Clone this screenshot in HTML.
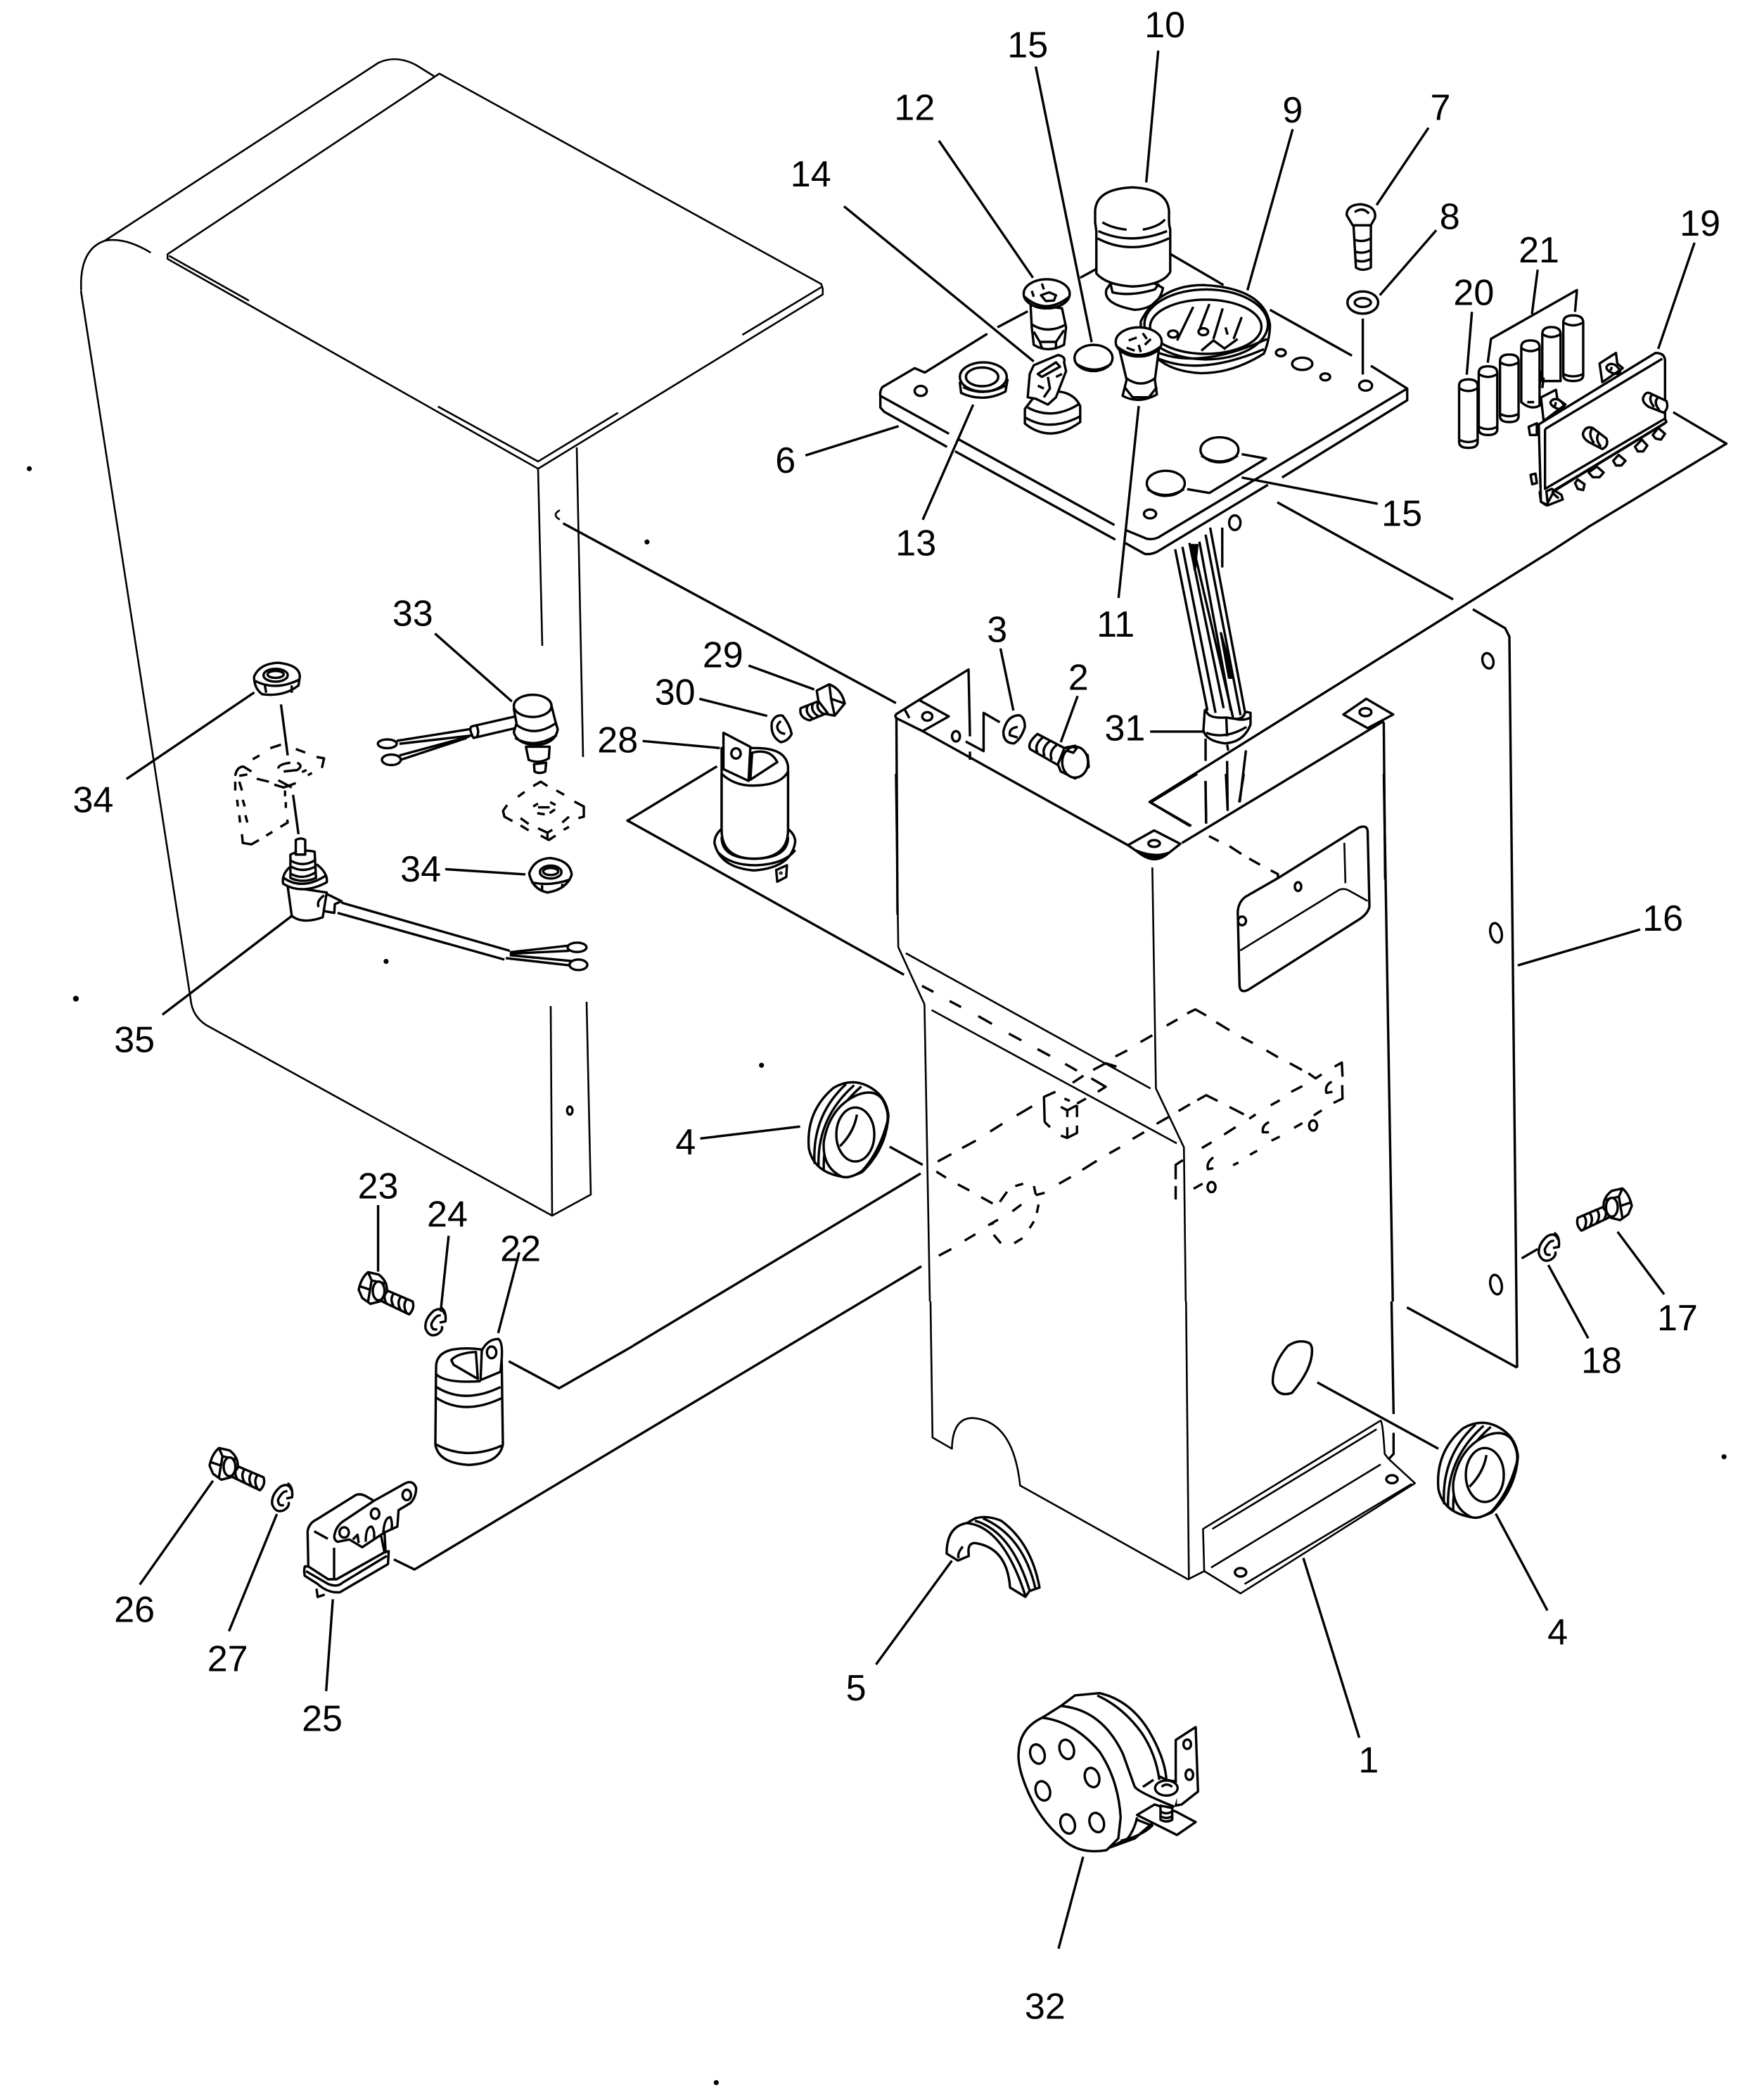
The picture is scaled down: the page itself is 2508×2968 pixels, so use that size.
<!DOCTYPE html>
<html><head><meta charset="utf-8"><title>Parts diagram</title>
<style>
html,body{margin:0;padding:0;background:#fff}
svg{display:block}
path,ellipse,circle,line{vector-effect:non-scaling-stroke;stroke:#000;stroke-width:3.4;fill:none;stroke-linejoin:round}
.w{fill:#fff}
.t{stroke-width:2.6}
.k{fill:#000}
text{font-family:"Liberation Sans",sans-serif;font-size:27.5px;fill:#000;text-anchor:middle}
</style></head><body>
<svg width="2508" height="2968" viewBox="0 0 2508 2968" xmlns="http://www.w3.org/2000/svg">
<defs>
<g id="bolt">
<path class="w" d="M420,90L560,150Q570,180 545,205L430,150Z"/>
<path d="M450,105Q430,130 450,160M480,115Q460,140 480,172M510,130Q490,155 510,188M535,140Q515,165 535,200"/>
<path class="w" d="M330,100Q340,50 370,25L415,35Q455,65 450,110L420,150L380,160L345,135Z"/>
<path d="M370,25L385,60L450,75M385,60L370,150M335,85L380,100"/>
<ellipse class="w" cx="415" cy="105" rx="25" ry="40"/>
</g>
<g id="wash">
<path d="M697,205Q685,170 650,190Q610,225 615,265Q630,305 665,290Q690,275 685,255"/>
<path d="M680,210Q660,205 640,245Q640,275 665,268M680,175Q705,190 700,235L675,240"/>
</g>
<g id="grom">
<path class="w" d="M1380,920Q1310,900 1298,800Q1290,640 1360,540Q1400,500 1440,530Q1490,570 1495,660Q1490,800 1430,900Q1400,925 1380,920Z"/>
<path d="M1312,865Q1305,660 1390,525M1322,875Q1318,670 1410,530M1335,895Q1330,680 1428,535"/>
<path class="w" d="M1380,920Q1330,880 1335,770Q1350,620 1420,570Q1460,545 1480,590Q1500,650 1490,700Q1470,820 1430,895Q1400,930 1380,920Z"/>
<ellipse class="w" cx="1413" cy="740" rx="47" ry="115"/>
<path d="M1417,655Q1410,730 1375,790"/>
</g>
</defs>

<!-- long lines in full pixel coordinates -->
<path class="t" d="M115,413L271,1420Q273,1444 293,1457L785,1728L840,1698L834,1424M783,1430L785,1728"/>
<path class="t" d="M765,666L771,918M820,636L829,1076"/>
<line x1="900" y1="1913" x2="1309" y2="1668"/>
<line x1="900" y1="2045" x2="1310" y2="1800"/>
<line x1="1816" y1="714" x2="2066" y2="852"/>
<line x1="2257" y1="750" x2="2200" y2="787"/>
<path d="M2094,866L2140,893L2146,905L2157,1944"/>

<g transform="scale(1.8928)">
<line x1="423" y1="393" x2="673" y2="528"/>
<line x1="471" y1="616" x2="679" y2="732"/>
<line x1="778" y1="50" x2="820" y2="257"/>
<line x1="870" y1="38" x2="861" y2="137"/>
<line x1="971" y1="97" x2="937" y2="218"/>
<line x1="1073" y1="96" x2="1034" y2="154"/>
<line x1="605" y1="342" x2="675" y2="320"/>
<line x1="526" y1="855" x2="601" y2="846"/>
<line x1="191" y1="520" x2="95" y2="585"/>
<line x1="219" y1="688" x2="122" y2="762"/>
<line x1="1140" y1="725" x2="1232" y2="698"/>
<line x1="1215" y1="925" x2="1250" y2="972"/>
<line x1="1163" y1="950" x2="1193" y2="1005"/>
<line x1="1143" y1="945" x2="1155" y2="938"/>
<line x1="284" y1="905" x2="284" y2="955"/>
<line x1="337" y1="928" x2="331" y2="985"/>
<line x1="105" y1="1190" x2="160" y2="1112"/>
<line x1="172" y1="1225" x2="208" y2="1137"/>
<line x1="245" y1="1270" x2="250" y2="1201"/>
<line x1="715" y1="1172" x2="658" y2="1250"/>
<line x1="979" y1="1170" x2="1021" y2="1305"/>
<ellipse cx="428" cy="834" rx="2" ry="3"/>
<circle class="k" cx="57" cy="750" r="1.3"/><circle class="k" cx="486" cy="407" r="1"/><circle class="k" cx="290" cy="722" r="1"/><circle class="k" cx="1295" cy="1094" r="1"/><circle class="k" cx="538" cy="1564" r="1"/><circle class="k" cx="22" cy="352" r="1"/><circle class="k" cx="572" cy="800" r="1"/>
</g>

<!-- top cabinet panel -->
<g transform="translate(100,60) scale(.7015,.4464)">
<path class="t" d="M163,670Q110,620 70,632M22,790Q18,660 70,632L625,65Q660,40 700,72L737,108"/>
<path class="t" d="M197,675L748,100L1522,770L1525,785L1525,803L948,1358L197,690Z"/>
<path class="t" d="M200,680L362,823M745,1160L948,1335L1110,1180M1362,932L1522,780"/>
<path class="t" d="M992,1490Q975,1505 992,1520"/>
</g>

<!-- top-left box corner, parts 2,3,28,29,30 -->
<g transform="translate(850,900) scale(.5102,.3333)">
<path d="M832,360L835,1200"/>
<path d="M895,285L1033,155L1037,440M1037,505L1037,540M1025,462L1075,503L1075,340L1120,380"/>
<path d="M905,418L1478,905"/>
<path d="M832,345L895,285L978,355L905,418L835,365Q825,355 832,345Z"/>
<path d="M855,325L868,362"/>
<ellipse cx="918" cy="355" rx="14" ry="18"/>
<ellipse cx="998" cy="440" rx="11" ry="22"/>
<path d="M1122,65L1158,330M1337,268L1290,465M125,460L340,490M420,138L603,240M283,280L472,353M332,568L80,802"/>
<path d="M1175,350Q1140,350 1130,420Q1130,470 1160,470Q1180,450 1190,400Q1190,360 1175,350Z"/>
<path d="M1170,400Q1145,405 1148,435L1170,445"/>
<path class="w" d="M1205,495Q1195,470 1225,430L1300,490L1285,565Z"/>
<path d="M1240,445Q1215,475 1225,510M1260,460Q1235,490 1245,525M1280,475Q1255,505 1265,540"/>
<path class="w" d="M1300,490L1330,480L1365,520L1368,570L1330,620L1290,590L1282,560Z"/>
<ellipse class="w" cx="1330" cy="550" rx="36" ry="66"/>
<path d="M1300,490Q1315,480 1335,490L1325,510L1305,500"/>
<path class="w" d="M610,245L645,218Q680,240 688,300L660,352L620,340Z"/>
<path class="w" d="M565,320L615,290L640,340L590,372Q560,360 565,320Z"/>
<path d="M585,310Q575,340 600,365M600,300Q590,330 615,355M615,290Q605,325 630,345"/>
<path d="M645,218L650,280L688,300M650,280L660,352"/>
<path d="M540,430Q530,460 510,465Q480,440 485,380Q495,345 515,352Q535,390 540,430Z"/>
<path d="M510,375Q490,400 510,425L522,430"/>
<path class="w" d="M345,580L345,870Q345,960 435,962Q530,960 530,870L530,570Q525,490 440,490L345,490Z"/>
<path class="w" d="M345,835Q325,860 325,895Q340,1000 435,1012Q540,1000 550,890Q550,860 530,835"/>
<path d="M345,870Q345,960 435,962Q530,960 530,870M335,935Q370,990 440,990Q520,985 550,925"/>
<path class="w" d="M345,840L345,600Q380,650 430,650Q510,650 530,590L530,840Q530,960 435,962Q345,960 345,840Z"/>
<path d="M430,510Q480,490 500,550L425,625Z"/>
<path class="w" d="M350,425L425,485L420,630L350,580Z"/>
<ellipse cx="385" cy="513" rx="13" ry="22"/>
<path class="w" d="M497,1010L500,1060L525,1040L527,990Z"/>
<circle cx="510" cy="1023" r="2"/>
</g>

<!-- center of box, dashed -->
<g transform="translate(1220,1100) scale(.5102,.4783)">
<path class="t" d="M105,0L112,515L185,685L200,1568"/>
<path class="t" d="M820,278L830,935L908,1110L913,1568"/>
<path class="t" d="M133,533L815,935M205,702L888,1098"/>
<path d="M178,630L210,648M255,675L287,693M335,720L373,743M420,772L455,792M500,818L535,838M577,862L610,882M650,905L690,930L668,945"/>
<path d="M655,880L690,860L720,870M717,840L750,822M787,797L820,777M860,748L890,730M917,712L940,700L970,718M998,738L1035,762M1068,782L1100,800M1138,822L1170,842M1203,860L1237,880M1255,890L1275,905L1292,893"/>
<path d="M222,1152L260,1130M290,1112L328,1090M368,1063L402,1040M442,1015L485,988M598,918L628,897M610,980L635,965"/>
<path d="M225,1432L260,1412M297,1387L327,1368M560,1218L593,1198M625,1177L665,1150M700,1128L730,1110M765,1085L797,1065M832,1040L865,1020M893,1002L925,982M945,970L970,955L1002,972M1035,990L1075,1012M1090,1025L1108,1012M1020,1072L1052,1050M958,1112L985,1095M1150,985L1175,970M1207,945L1238,928"/>
<path d="M1045,1163L1060,1155M1092,1132L1112,1120M1152,1090L1175,1078M1215,1052L1238,1038M1270,1015L1292,1000M935,1233L960,1218"/>
<path d="M1328,870L1348,858L1350,900M1349,925L1350,965L1325,978"/>
<ellipse cx="985" cy="1228" rx="11" ry="15"/><ellipse cx="1268" cy="1045" rx="11" ry="15"/>
<path d="M1145,1035Q1125,1045 1128,1065L1145,1065M990,1140Q970,1155 975,1175L990,1172M1320,915Q1300,925 1305,948L1322,945"/>
<path d="M88,1108L180,1162M218,1182L245,1200M278,1220L310,1238M343,1258L375,1277"/>
<path d="M395,1272L415,1242M438,1225L460,1218M490,1225L495,1250M520,1245L495,1252M503,1280L498,1305M490,1330L478,1350M458,1380L435,1395M398,1395L378,1370M378,1335L365,1340L390,1325M430,1300L455,1280"/>
<path d="M520,1035L518,960L550,945M575,965L590,972M565,990L583,1000L583,1020M583,1000L610,985M610,985L610,1020M520,1035L535,1050M565,1075L583,1082L610,1067L610,1045M583,1050L583,1082"/>
<path d="M905,1148L885,1162L885,1205M885,1225L885,1265"/>
<path d="M978,185L1005,200M1035,215L1068,238M1090,252L1120,270M1150,287L1170,298L1170,310"/>
<path d="M1170,310L1395,160Q1418,150 1420,170L1425,395Q1420,415 1400,430L1090,640Q1065,655 1063,630L1058,410Q1060,380 1080,365Z"/>
<path class="t" d="M1065,525L1340,345Q1355,338 1370,348L1420,378M1355,205L1358,325"/>
<ellipse cx="1226" cy="335" rx="9" ry="13"/><ellipse cx="1070" cy="437" rx="11" ry="13"/>
<path class="w" d="M752,212L825,168L898,208L860,240Q825,265 790,240Z"/>
<path class="k" d="M775,228Q825,275 865,235Q825,250 775,228Z"/>
<ellipse cx="825" cy="207" rx="16" ry="10"/>
<path d="M925,155L815,85L945,0"/>
<path d="M968,22L970,148M1025,0L1030,110M1075,0L1062,85"/>
<path d="M1465,0L1490,1568"/>
</g>

<!-- base -->
<g transform="translate(1300,1850) scale(.574,.3333)">
<path class="t" d="M40,0L45,580L93,628Q95,495 145,497Q245,510 262,785L678,1185L718,1150L715,970L1155,508Q1160,510 1165,650L1175,672L1240,775L808,1245L718,1150"/>
<path class="t" d="M673,0L680,1185"/>
<path d="M1182,0L1187,480M1187,560L1187,650L1175,672"/>
<path class="t" d="M738,970L1145,545M735,1135L1155,695M818,1205L1232,778"/>
<ellipse cx="1183" cy="758" rx="14" ry="17"/><ellipse cx="808" cy="1155" rx="14" ry="18"/>
<path d="M975,175Q950,160 925,190Q885,270 888,350Q900,410 935,390Q985,290 985,210Q985,180 975,175Z"/>
<path d="M998,345L1298,628"/>
<path d="M1220,25L1493,282"/>
<use href="#grom"/>
<path d="M1440,905L1568,1318"/>
<path class="w" d="M80,1075Q80,960 130,945L150,925Q180,910 215,935Q290,1030 310,1220L285,1235L275,1260L237,1220Q230,1050 150,1030Q130,1030 135,1085L108,1105Z"/>
<path d="M130,945Q220,960 275,1255M150,935Q240,980 285,1230M170,925Q270,1000 300,1225M120,1045Q105,1075 110,1095"/>
</g>
<g transform="translate(405,1366) scale(.574,.3333)"><use href="#grom"/></g>

<!-- right panel 16 -->
<g transform="translate(1600,750) scale(.3827,.3333)">
<ellipse cx="1347" cy="568" rx="20" ry="33" transform="rotate(-12 1347 568)"/>
<path d="M1568,110L90,1170L245,1272"/>
<path d="M960,825L210,1345"/>
<path d="M960,830L965,1500"/>
<path class="w" d="M810,797L895,730L995,797L900,855Z"/>
<ellipse cx="892" cy="787" rx="22" ry="17"/>
<path d="M185,92L305,780M212,82L335,790M238,65L365,770M250,70L400,810M275,60L392,780M298,30L428,800M315,0L445,790M360,0L360,170"/>
<path d="M245,70L258,180L268,70M355,450L385,640L400,640Z" class="k"/>
<path class="w" d="M295,780L290,865Q300,910 370,920Q440,915 465,840L465,790L445,785Q440,820 405,815L375,810Q300,815 300,775Z"/>
<path d="M300,875Q370,905 450,850M375,810L378,890M405,815Q440,825 465,810"/>
<path d="M298,900L298,995M298,1080L300,1260M378,995L380,1205M448,950L425,1170M378,925L382,950M92,870L290,870"/>
</g>
<ellipse cx="2127" cy="1326" rx="8" ry="14" transform="rotate(-12 2127 1326)"/>
<ellipse cx="2127" cy="1826" rx="8" ry="14" transform="rotate(-12 2127 1826)"/>

<!-- control panel, parts 6-15 -->
<g transform="translate(1200,200) scale(.574,.4145)">
<path d="M0,225L470,757M235,0L468,470M1467,307L1327,530M1285,610L1285,802M320,905L195,1300M730,910L680,1568M985,1155L1322,1245"/>
<path d="M625,440L585,470M455,585L380,640M355,662L200,795L175,780L95,845Q88,860 90,875L90,915L100,930L255,1050M90,875L260,1005M285,1025L670,1318M275,1065L672,1368M697,1335L750,1365Q770,1370 785,1355L1045,1140M1045,1140L1395,850L1305,772M697,1380L745,1417Q760,1420 775,1410L1050,1180M1085,1155L1395,890L1395,850M810,390L940,495M1055,580L1258,737"/>
<path d="M985,1075L1045,1090L905,1208L850,1195"/>
<ellipse cx="190" cy="858" rx="15" ry="17"/><ellipse cx="758" cy="1280" rx="15" ry="15"/><ellipse cx="1082" cy="727" rx="12" ry="12"/><ellipse cx="1135" cy="765" rx="25" ry="21"/><ellipse cx="1192" cy="810" rx="12" ry="12"/><ellipse cx="1292" cy="840" rx="16" ry="17"/><ellipse cx="968" cy="1310" rx="14" ry="25"/>
<path class="w" d="M650,510Q640,560 720,580Q780,575 790,505L770,490L660,490Z"/>
<path d="M660,490L665,520Q710,535 770,510L780,490"/>
<path class="w" d="M625,310L625,455Q650,495 715,500Q790,495 808,450L808,305Q805,290 805,275L805,240Q800,165 715,160Q625,165 622,240L622,280Z"/>
<path d="M640,280Q665,300 700,305M740,305Q780,295 795,270M630,310Q710,360 800,310M628,335Q710,395 805,335"/>
<path class="w" d="M735,620Q780,495 890,495Q1040,505 1055,630Q1055,680 1040,730Q960,800 880,797Q810,790 775,745L735,680Z"/>
<ellipse class="w" cx="897" cy="630" rx="153" ry="120"/>
<ellipse class="w" cx="896" cy="638" rx="138" ry="93"/>
<path d="M775,745Q880,810 1040,715M775,725Q880,785 1048,680"/>
<path d="M865,570L825,685M905,560L880,650M938,575L915,680M985,605L965,680M885,720L915,685L945,715M945,640L950,665M975,680L940,715"/>
<ellipse cx="815" cy="663" rx="12" ry="12"/><ellipse cx="890" cy="655" rx="12" ry="12"/>
<path class="w" d="M462,560L465,640L470,700Q505,730 545,700L550,640L540,575Z"/>
<path d="M465,630Q505,665 550,630M470,655L485,690L525,690L545,650M485,690L490,710M525,690L525,715"/>
<ellipse class="w" cx="502" cy="525" rx="57" ry="50"/>
<path d="M447,535Q500,600 558,535M488,530L508,520L525,530L520,548L500,550ZM465,515L470,535M490,490L495,510"/>
<path class="w" d="M682,715L700,820L690,875Q730,905 775,870L770,820L780,715Z"/>
<path d="M700,815Q735,850 770,815M695,845L715,880L755,880L775,845"/>
<ellipse class="w" cx="730" cy="690" rx="57" ry="50"/>
<path d="M675,705Q730,765 785,705M705,685L725,675M700,710L720,720M740,660L750,680M760,680L745,700M730,700L735,725"/>
<ellipse class="w" cx="618" cy="745" rx="47" ry="45"/><path d="M575,765Q620,805 662,765"/>
<ellipse class="w" cx="930" cy="1060" rx="47" ry="43"/><path d="M885,1080Q930,1120 975,1080"/>
<ellipse class="w" cx="797" cy="1175" rx="47" ry="43"/><path d="M752,1195Q795,1235 842,1195"/>
<path class="w" d="M287,830L290,865Q345,900 400,860L405,820Z"/>
<path d="M295,845Q345,880 400,840"/>
<ellipse class="w" cx="345" cy="810" rx="58" ry="50"/><ellipse cx="342" cy="810" rx="40" ry="32"/>
<path class="w" d="M448,920L448,970Q510,1040 585,965L585,910Q570,865 530,860L470,880Z"/>
<path d="M450,950Q510,1000 585,945M455,915Q515,960 580,905"/>
<path class="w" d="M470,770L530,735Q550,740 545,760L550,790L525,880L505,905L475,885L455,880L460,800Z"/>
<path d="M480,800L525,760L535,775L490,810ZM505,810L510,850L495,880M480,840L495,850M525,810L540,800"/>
<path class="w" d="M1262,290L1268,435Q1285,450 1305,435L1305,290Z"/>
<path d="M1265,340Q1285,350 1305,335M1265,380Q1285,390 1305,375M1268,410Q1285,420 1305,405"/>
<path class="w" d="M1245,255Q1245,220 1280,218Q1320,225 1315,265L1305,290L1260,290Z"/>
<path d="M1265,245Q1285,225 1300,250"/>
<ellipse cx="1285" cy="555" rx="38" ry="38"/><ellipse cx="1285" cy="555" rx="20" ry="15"/>
</g>

<!-- parts 19,20,21 -->
<g transform="translate(1900,250) scale(.3878,.3333)">
<path d="M555,797L567,695L882,487L875,580M738,400L717,590M497,580L478,848M1313,285L1180,738M1235,1008L1430,1142L920,1500"/>
<path class="w" d="M832,625Q832,595 868,595Q905,595 905,625L905,850Q905,875 868,875Q832,875 832,850Z"/>
<path d="M832,625Q868,650 905,625M832,845Q868,865 905,845"/>
<path class="w" d="M755,675Q755,645 788,645Q822,645 822,675L822,875L755,875Z"/>
<path d="M755,675Q788,700 822,675"/>
<path class="w" d="M678,730Q678,702 712,702Q745,702 745,730L745,980Q712,1000 678,965Z"/>
<path d="M678,735Q712,760 745,735M700,965L725,965M750,830L745,905M760,860L755,905"/>
<path class="w" d="M600,790Q600,762 634,762Q668,762 668,790L668,1025Q668,1050 634,1050Q600,1050 600,1025Z"/>
<path d="M600,795Q634,820 668,795M600,1015Q634,1035 668,1015"/>
<path class="w" d="M522,840Q522,812 556,812Q590,812 590,840L590,1080Q590,1105 556,1105Q522,1105 522,1080Z"/>
<path d="M522,845Q556,870 590,845M522,1070Q556,1090 590,1070"/>
<path class="w" d="M450,895Q450,868 484,868Q518,868 518,895L518,1135Q518,1160 484,1160Q450,1160 450,1135Z"/>
<path d="M450,905Q484,930 518,905M450,1125Q484,1145 518,1125"/>
<path class="w" d="M965,800L1025,755L1030,800L1050,820L975,880Z"/>
<path d="M990,815Q1000,795 1020,805Q1035,815 1040,835Q1030,850 1010,840Q990,830 990,815ZM1010,815L1005,830"/>
<path class="w" d="M750,945L805,912L810,950L840,975L760,1045Z"/>
<path d="M785,965Q795,945 815,955Q835,970 835,985Q820,1000 805,990Q785,980 785,965ZM805,965L800,985"/>
<path class="w" d="M742,1060L1170,755Q1205,755 1205,790L1205,1035L1210,1050L800,1340L770,1405L750,1390Z"/>
<path d="M765,1080L1195,780M765,1080L765,1335L1205,1035M790,1350L1205,1055"/>
<path class="w" d="M705,1070L735,1055L735,1105L710,1105ZM712,1275L730,1270L735,1310L718,1315Z"/>
<path class="w" d="M1125,945Q1135,915 1155,930L1210,960Q1220,990 1200,1010L1145,985Q1120,965 1125,945Z"/>
<path d="M1160,930Q1140,950 1165,985M1180,945Q1160,965 1185,1000"/>
<path class="w" d="M905,1095Q915,1065 940,1075L990,1120Q1000,1150 975,1165L925,1135Q900,1115 905,1095Z"/>
<path d="M940,1075Q920,1100 945,1140M965,1095Q945,1120 970,1155"/>
<path d="M745,1345L750,1390L775,1405L830,1380L825,1360L790,1335L770,1345L775,1400M790,1350L815,1375"/>
<path d="M875,1310L885,1295L910,1315L905,1340L885,1335ZM925,1265L955,1240L980,1265L965,1285L940,1285ZM1015,1215L1035,1190L1060,1215L1045,1235L1025,1235ZM1095,1155L1120,1125L1140,1150L1125,1175L1105,1175ZM1160,1105L1180,1075L1205,1100L1190,1125L1170,1120Z"/>
</g>

<!-- parts 33,34,35 -->
<g transform="translate(300,850) scale(.3827,.4145)">
<path d="M260,365L285,540M305,675L325,810M832,122L1118,355M870,930L1168,948"/>
<path class="w" d="M160,270Q180,225 250,222Q330,230 330,270L325,300Q270,340 190,330Q160,310 160,270Z"/>
<ellipse cx="240" cy="265" rx="45" ry="22"/><ellipse cx="240" cy="262" rx="30" ry="12"/>
<path d="M165,285Q240,320 328,280M200,300L205,325M300,300L300,325"/>
<path d="M155,553L180,540M220,515L260,503M315,518L350,530M392,545L420,550L412,583M338,597L355,590M360,608L375,600"/>
<path d="M90,610Q95,580 120,578L150,595M105,610L135,605M170,620L215,630M235,640L270,650L315,635M250,625L300,650M295,565Q250,570 250,585M320,565Q345,575 320,590L270,595"/>
<path d="M90,630L90,660M105,630L115,660M97,692L100,715M118,692L125,715M105,745L108,770M128,745L135,770M115,810L118,840L150,845L178,830M205,815L228,802M258,785L285,770L283,760M275,660L275,680M278,700L278,720"/>
<path d="M960,450L690,490M985,470L700,500M960,475L700,540M950,480L705,555"/>
<ellipse cx="655" cy="500" rx="35" ry="15"/><ellipse cx="670" cy="555" rx="35" ry="18"/>
<path class="w" d="M1160,400L970,440Q955,445 975,480L1160,440Z"/>
<path d="M985,435Q1000,460 985,480"/>
<path class="w" d="M1170,510L1180,555Q1220,570 1255,550L1258,510Z"/>
<path class="w" d="M1200,570L1202,595Q1220,605 1242,595L1245,565Z"/>
<path class="w" d="M1125,380L1135,430L1125,460Q1135,500 1205,505Q1280,500 1288,450L1280,425L1265,370Z"/>
<path d="M1130,480Q1200,520 1285,470M1135,435Q1200,480 1280,430"/>
<ellipse class="w" cx="1195" cy="370" rx="70" ry="38"/>
<path d="M1197,645L1225,630L1250,645M1140,682L1165,665M1283,660L1312,675M1350,698L1385,715L1385,750L1365,755M1100,710L1085,730L1090,750L1120,765M1150,755L1180,775M1150,780L1180,797M1215,790L1250,805L1268,795M1250,805L1250,825M1225,815L1255,830L1280,815M1305,770L1330,750M1310,795L1330,785M1197,715L1215,705M1215,718L1258,718M1260,700L1280,710M1212,738L1240,742M1258,738L1278,725"/>
<path class="w" d="M1182,945Q1200,895 1260,892Q1335,900 1340,950Q1320,1000 1250,1010Q1195,1000 1182,945Z"/>
<ellipse cx="1262" cy="940" rx="40" ry="22"/><ellipse cx="1262" cy="938" rx="28" ry="12"/>
<path d="M1190,975Q1260,990 1335,965M1230,985L1230,1005M1305,980L1305,995"/>
<path d="M485,1045L1110,1210M470,1080L1090,1240M1110,1215L1330,1192M1110,1220L1330,1210M1095,1235L1335,1260M1110,1225L1340,1245"/>
<ellipse cx="1360" cy="1198" rx="35" ry="16"/><ellipse cx="1365" cy="1258" rx="33" ry="18"/>
<path class="w" d="M430,1015L485,1040L460,1050L458,1080L410,1072Z"/>
<path class="w" d="M285,990L300,1090Q340,1120 415,1095L430,1010Z"/>
<path d="M420,1020Q390,1040 400,1060"/>
<path class="w" d="M290,925Q262,950 268,980Q340,1020 430,975Q435,945 395,915Z"/>
<path d="M270,960Q340,1005 430,950"/>
<path class="w" d="M295,880Q340,860 385,870L390,960Q340,980 295,960Z"/>
<path d="M295,900Q340,925 385,900M295,920Q340,945 390,920M295,945Q340,970 390,940"/>
<path class="w" d="M315,880L315,830Q335,820 350,830L350,880Z"/>
</g>

<!-- parts 22-27 -->
<g transform="translate(400,1800) scale(.3333)">
<use href="#bolt"/>
<use href="#wash"/>
<path d="M1015,-60L925,285"/>
<path d="M970,405L1185,520L1500,340M480,1250L568,1293L1500,735"/>
<path class="w" d="M660,430Q660,370 730,355Q790,345 855,355L940,400L945,760Q930,840 800,847Q670,840 657,760Z"/>
<path d="M660,460Q700,500 850,490M662,515Q780,590 935,515M660,560Q780,640 945,560M660,760Q790,830 940,765"/>
<path d="M725,400Q750,370 830,365L838,480L735,420Z"/>
<path class="w" d="M850,485L855,360Q880,310 925,310Q945,320 940,395L935,450Z"/>
<ellipse cx="897" cy="367" rx="20" ry="25"/>
<path class="w" d="M115,1280L112,1130Q118,1095 150,1080L310,980Q330,965 360,980L395,1000L440,1220L235,1335L200,1335Z"/>
<path d="M225,1200L225,1335M140,1130L198,1162"/>
<path class="w" d="M100,1280Q95,1300 100,1320L155,1355Q200,1395 250,1390L455,1270L458,1215L440,1220L235,1335L200,1335L115,1280Z"/>
<path d="M105,1300L200,1355Q240,1370 260,1350L450,1235"/>
<path class="w" d="M395,1000L520,930Q560,905 575,945Q575,985 550,1010L500,1040L495,1110L440,1135L345,1198L290,1165L240,1175Q220,1165 228,1140Q235,1110 260,1090Z"/>
<ellipse cx="268" cy="1135" rx="20" ry="22"/><ellipse cx="400" cy="1055" rx="18" ry="22"/><ellipse cx="535" cy="975" rx="18" ry="22"/>
<path d="M360,1175Q360,1110 385,1110Q400,1125 395,1165M435,1135Q440,1070 465,1070Q475,1090 470,1125M305,1165L325,1145L330,1180M440,1135L445,1220M150,1375L155,1410L185,1400"/>
</g>
<g transform="translate(188,2050) scale(.3333)"><use href="#bolt"/></g>
<g transform="translate(2430,1681) scale(-.3333,.3333)"><use href="#bolt"/></g>
<g transform="translate(182,2050) scale(.3333)"><use href="#wash"/></g>
<g transform="translate(1983,1694) scale(.3333)"><use href="#wash"/></g>

<!-- horn 32 -->
<g transform="translate(1400,2350) scale(.3333)">
<path class="w" d="M325,225L385,180L490,170Q620,200 700,330Q770,450 775,540L800,650L640,790L530,830L245,275Z"/>
<path d="M480,180Q590,230 670,340Q730,430 745,540M325,225Q500,240 590,430L640,570"/>
<path class="w" d="M145,420Q150,320 245,275Q380,290 490,420Q570,540 580,700L570,790L520,840Q400,860 330,790Q220,700 165,540Q140,470 145,420Z"/>
<ellipse cx="225" cy="430" rx="30" ry="42" transform="rotate(-18 225 430)"/><ellipse cx="350" cy="410" rx="30" ry="42" transform="rotate(-18 350 410)"/><ellipse cx="458" cy="530" rx="30" ry="42" transform="rotate(-18 458 530)"/><ellipse cx="248" cy="587" rx="30" ry="42" transform="rotate(-18 248 587)"/><ellipse cx="354" cy="728" rx="30" ry="42" transform="rotate(-18 354 728)"/><ellipse cx="478" cy="722" rx="30" ry="42" transform="rotate(-18 478 722)"/>
<path d="M640,570Q660,590 810,650M675,570L720,540"/>
<path class="w" d="M725,645L650,690L820,775L900,720L815,675Z"/>
<path d="M650,700Q640,750 610,790L530,830M650,710Q700,730 715,735Q670,780 580,800"/>
<path class="w" d="M750,650L750,710Q775,725 800,710L800,660Z"/>
<path d="M750,675Q775,690 800,675M750,695Q775,710 800,695"/>
<path class="w" d="M815,370L900,315L910,590L840,645L815,650Z"/>
<ellipse cx="864" cy="388" rx="16" ry="20"/><ellipse cx="873" cy="518" rx="16" ry="22"/>
<path class="w" d="M640,570L725,625L810,650L825,600L825,550L760,540L730,570Z" style="stroke:none"/>
<path d="M640,570Q660,595 810,655"/>
<ellipse cx="775" cy="575" rx="48" ry="32"/>
<path d="M755,570Q775,550 800,570M775,540L745,525M775,540L820,548M675,570L720,540"/>
<path d="M420,868L315,1260"/>
</g>

<!-- labels -->
<g transform="scale(1.8928)">
<text x="875" y="28">10</text><text x="772" y="43">15</text><text x="687" y="90">12</text><text x="971" y="92">9</text><text x="1082" y="90">7</text><text x="1089" y="172">8</text><text x="609" y="140">14</text><text x="1277" y="177">19</text><text x="1156" y="197">21</text><text x="1107" y="229">20</text><text x="590" y="355">6</text><text x="688" y="417">13</text><text x="1053" y="395">15</text><text x="838" y="478">11</text><text x="749" y="482">3</text><text x="543" y="501">29</text><text x="810" y="518">2</text><text x="507" y="529">30</text><text x="845" y="556">31</text><text x="464" y="565">28</text><text x="310" y="470">33</text><text x="70" y="610">34</text><text x="316" y="662">34</text><text x="1249" y="699">16</text><text x="101" y="790">35</text><text x="515" y="867">4</text><text x="284" y="900">23</text><text x="336" y="921">24</text><text x="391" y="947">22</text><text x="1260" y="999">17</text><text x="1203" y="1031">18</text><text x="101" y="1218">26</text><text x="171" y="1255">27</text><text x="1170" y="1235">4</text><text x="643" y="1277">5</text><text x="242" y="1300">25</text><text x="1028" y="1331">1</text><text x="785" y="1516">32</text>
</g>
</svg>
</body></html>
